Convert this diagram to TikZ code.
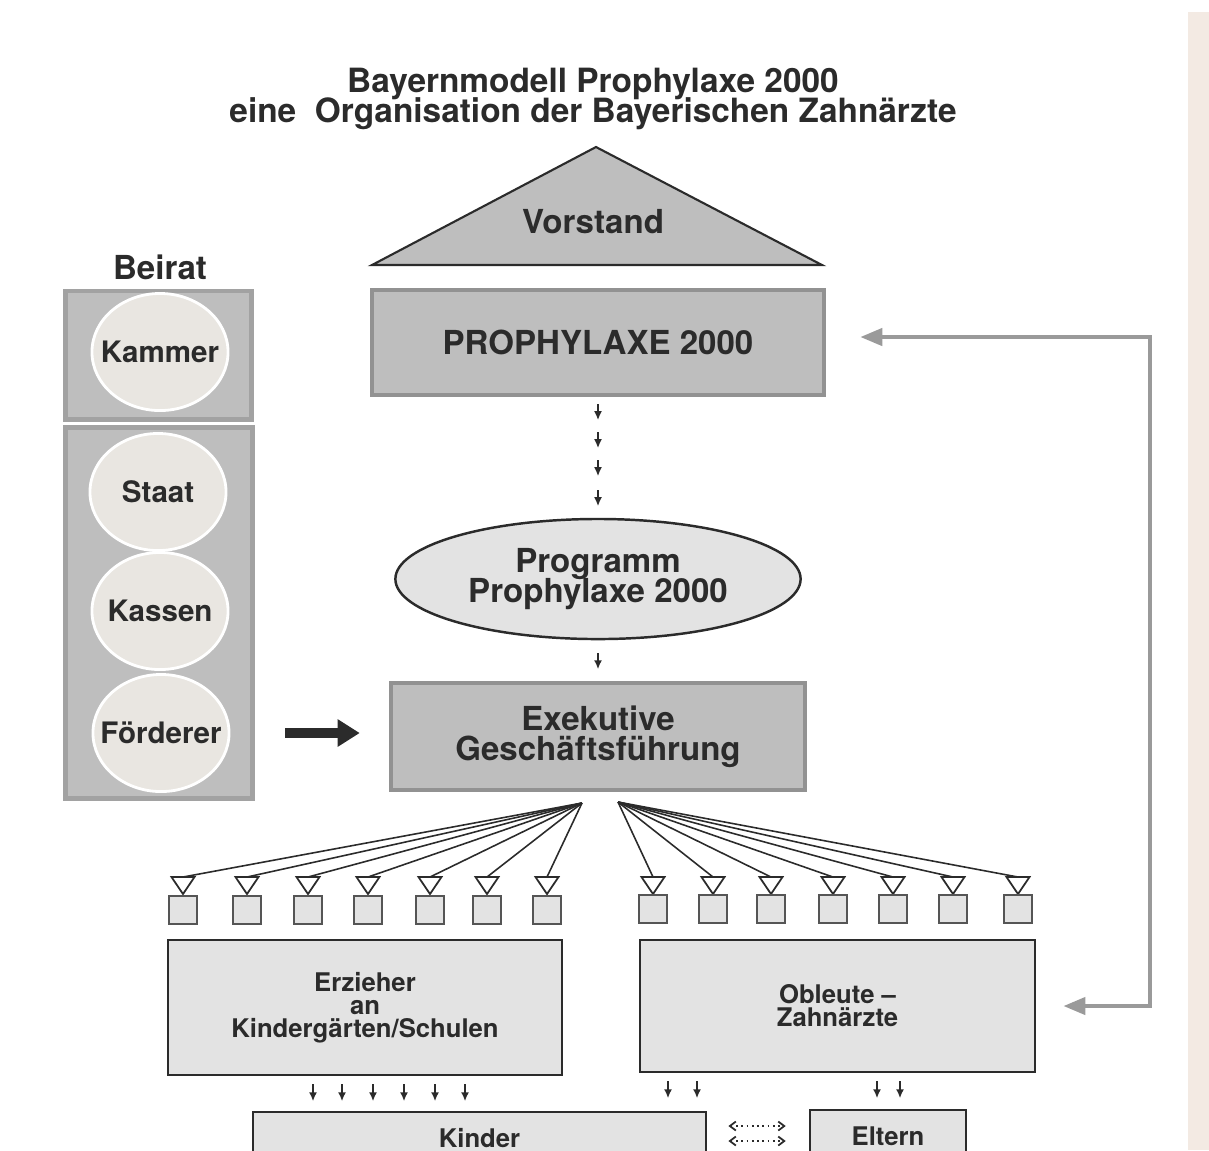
\documentclass[tikz,border=0pt]{standalone}
\usepackage{fontspec}
\setmainfont{TeX Gyre Heros}
\usetikzlibrary{arrows.meta,shapes.geometric,positioning}

\definecolor{ink}{HTML}{2B2B2B}
\definecolor{boxgray}{HTML}{BEBEBE}
\definecolor{framegray}{HTML}{929292}
\definecolor{lightgray}{HTML}{E3E3E3}
\definecolor{circlefill}{HTML}{E9E6E1}
\definecolor{fbgray}{HTML}{9A9A9A}
\definecolor{paper}{HTML}{F3EAE3}

\newcommand{\fsbig}{\fontsize{9.4}{8.6}\selectfont\bfseries\lineskiplimit=-20pt}
\newcommand{\fsmid}{\fontsize{8.4}{9}\selectfont\bfseries}
\newcommand{\fssmall}{\fontsize{7.3}{6.5}\selectfont\bfseries\lineskiplimit=-20pt}

\begin{document}
\begin{tikzpicture}[x=0.01cm, y=-0.01cm,
    every node/.style={text=ink, inner sep=0pt},
    darkbox/.style={draw=framegray, line width=1.2pt, fill=boxgray, font=\fsbig},
    beiratbox/.style={draw=framegray!85, line width=1.4pt, fill=boxgray},
    member/.style={ellipse, draw=white, line width=0.8pt, fill=circlefill,
        inner xsep=-1.6mm, inner ysep=-1mm,
        minimum width=1.36cm, minimum height=1.17cm, font=\fsmid},
    lightbox/.style={draw=ink, line width=0.7pt, fill=lightgray, font=\fssmall, align=center},
    smallarr/.style={ink, line width=0.8pt, -{Latex[length=0.9mm,width=0.8mm]}},
    fanline/.style={ink, line width=0.45pt},
    tri/.style={draw=ink, line width=0.5pt, fill=white},
    sq/.style={draw=ink!80, line width=0.5pt, fill=lightgray, minimum size=0.28cm},
    fbarrow/.style={fbgray, line width=1.2pt, {Triangle[length=2.2mm,width=1.7mm]}-{Triangle[length=2.2mm,width=1.7mm]}},
    dotarr/.style={ink, line width=0.5pt, densely dotted, {Straight Barb[length=0.6mm,width=0.9mm]}-{Straight Barb[length=0.6mm,width=0.9mm]}}
]
    \useasboundingbox (0,0) rectangle (1209,1150);
    \clip (0,0) rectangle (1209,1150);
    \fill[paper] (1188,12) rectangle (1209,1150);

    % Title
    \node[font=\fontsize{9.5}{11}\selectfont\bfseries] (title1) at (593,84) {Bayernmodell Prophylaxe 2000};
    \node[font=\fontsize{9.5}{11}\selectfont\bfseries] (title2) at (593,114) {eine \ Organisation der Bayerischen Zahnärzte};

    % Vorstand
    \draw[ink, line width=0.6pt, fill=boxgray] (596,147) -- (822,265) -- (372,265) -- cycle;
    \node[font=\fsbig] (vorstand) at (593,222) {Vorstand};

    % Main column
    \node[darkbox, minimum width=4.52cm, minimum height=1.05cm] (proph) at (598,342.5) {PROPHYLAXE 2000};
    \node[ellipse, draw=ink, line width=0.7pt, fill=lightgray, minimum width=4.05cm,
        minimum height=1.2cm, font=\fsbig, align=center] (prog) at (598,579) {Programm\\Prophylaxe 2000};
    \node[darkbox, minimum width=4.14cm, minimum height=1.07cm, align=center] (exe) at (598,736.5) {Exekutive\\Geschäftsführung};

    \foreach \d in {0.7,3.5,6.3,9.3}
        \draw[smallarr] ([yshift=-\d mm]proph.south) -- ++(0,16);
    \draw[smallarr] ([yshift=-1.3mm]prog.south) -- ++(0,16);

    % Beirat
    \node[font=\fsbig] (beirat) at (160,267) {Beirat};
    \node[beiratbox, minimum width=1.85cm, minimum height=1.28cm] (beirat1) at (158.5,355) {};
    \node[beiratbox, minimum width=1.86cm, minimum height=3.70cm] (beirat2) at (159,613) {};
    \node[member] (kammer) at (160,352) {Kammer};
    \node[member] (staat) at (158,492) {Staat};
    \node[member] (kassen) at (160,611) {Kassen};
    \node[member] (foerderer) at (161,733) {Förderer};

    \draw[ink, line width=2.8pt, -{Triangle[length=2.2mm,width=2.6mm]}] ([xshift=0.55cm]foerderer.east) -- ([xshift=-0.29cm]exe.west |- foerderer.east);

    % Fan to the groups
    \coordinate (srcl) at (582,803);
    \coordinate (srcr) at (618,802);
    \foreach \x [count=\i] in {183,247,308,368,430,487,547} {
        \coordinate (tl\i) at (\x,877);
        \draw[tri] (tl\i) ++(-11.5,0) -- ++(23,0) -- ++(-11.5,17) -- cycle;
        \node[sq] (sl\i) at (\x,910) {};
        \draw[fanline] (srcl) -- (tl\i);
    }
    \foreach \x [count=\i] in {653,713,771,833,893,953,1018} {
        \coordinate (tr\i) at (\x,877);
        \draw[tri] (tr\i) ++(-11.5,0) -- ++(23,0) -- ++(-11.5,17) -- cycle;
        \node[sq] (sr\i) at (\x,909) {};
        \draw[fanline] (srcr) -- (tr\i);
    }

    % Groups
    \node[lightbox, minimum width=3.94cm, minimum height=1.35cm] (erz) at (365,1007.5) {Erzieher\\an\\Kindergärten/Schulen};
    \node[lightbox, minimum width=3.95cm, minimum height=1.32cm] (obl) at (837.5,1006) {Obleute --\\Zahnärzte};
    \node[lightbox, minimum width=4.53cm, minimum height=0.52cm] (kinder) at (479.5,1138) {Kinder};
    \node[lightbox, minimum width=1.56cm, minimum height=0.52cm] (eltern) at (888,1136) {Eltern};

    \foreach \x in {313,342,373,404,435,465}
        \draw[smallarr] ([yshift=-0.8mm]\x,0 |- erz.south) -- ++(0,17);
    \foreach \x in {668,697,877,900}
        \draw[smallarr] ([yshift=-0.8mm]\x,0 |- obl.south) -- ++(0,17);

    \draw[dotarr] ([xshift=2.1mm]kinder.east |- 0,1126) -- ([xshift=-2.3mm]eltern.west |- 0,1126);
    \draw[dotarr] ([xshift=2.1mm]kinder.east |- 0,1141) -- ([xshift=-2.3mm]eltern.west |- 0,1141);

    % Feedback loop
    \draw[fbarrow] ([xshift=0.27cm]obl.east) -| (1150,337) -- ([xshift=0.34cm]proph.east |- 0,337);
\end{tikzpicture}
\end{document}
